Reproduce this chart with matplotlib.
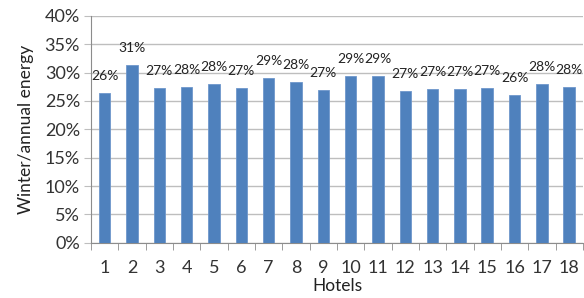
import matplotlib.pyplot as plt
import numpy as np

# Share of annual energy used in winter, per hotel (%)
hotels = [str(i) for i in range(1, 19)]
winter_share = [26.4, 31.4, 27.3, 27.5, 28.0, 27.3, 29.0, 28.4, 26.9,
                29.4, 29.4, 26.7, 27.1, 27.1, 27.3, 26.0, 27.9, 27.5]
yticks = [0, 5, 10, 15, 20, 25, 30, 35, 40]

plt.rcParams['font.family'] = ['Lato', 'DejaVu Sans']

fig = plt.figure(figsize=(5.84, 2.98), dpi=100)
ax = fig.add_axes([0.156, 0.185, 0.842, 0.762])

x = np.arange(len(hotels))
bars = ax.bar(x, winter_share, width=0.42, color='#4F81BD', edgecolor='#6E97CC',
              linewidth=0.6, zorder=3)

# data labels, rounded like the original
for xi, v in zip(x, winter_share):
    ax.annotate(f'{round(v)}%', (xi, v), xytext=(0, 8), textcoords='offset points',
                ha='center', va='bottom', fontsize=10, color='#222222')

ax.set_xlim(-0.5, len(hotels) - 0.5)
ax.set_ylim(0, 40)
ax.set_yticks(yticks)
ax.set_yticklabels([f'{t}%' for t in yticks], fontsize=13, color='#333333')
ax.grid(axis='y', color='#BEBEBE', linewidth=1, zorder=0)

# category labels centered, tick marks between categories
ax.set_xticks(x)
ax.set_xticklabels(hotels, fontsize=13, color='#333333')
ax.tick_params(axis='x', length=0, pad=12)
ax.set_xticks(np.arange(-0.5, len(hotels)), minor=True)
ax.tick_params(axis='x', which='minor', length=5, color='#8C8C8C', direction='out')
ax.tick_params(axis='y', length=5, color='#BEBEBE', pad=3)

for s in ['top', 'right']:
    ax.spines[s].set_visible(False)
ax.spines['left'].set_color('#8C8C8C')
ax.spines['bottom'].set_color('#8C8C8C')

ax.set_xlabel('Hotels', fontsize=12.5, color='#222222', labelpad=2)
ax.set_ylabel('Winter/annual energy', fontsize=12.5, color='#222222', labelpad=8)

fig.savefig('out.png', dpi=100)
